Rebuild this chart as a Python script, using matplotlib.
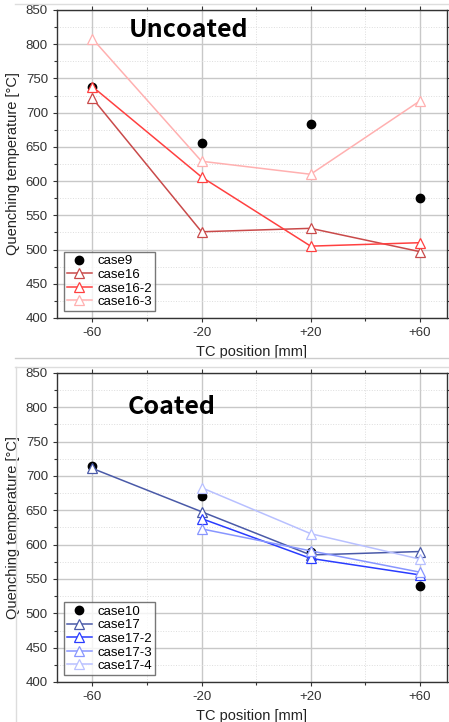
import numpy as np
import matplotlib.pyplot as plt
from matplotlib.ticker import MultipleLocator
from matplotlib.lines import Line2D

plt.rcParams['font.family'] = ['Liberation Sans', 'DejaVu Sans']

pos = [-60, -20, 20, 60]
pos_labels = ["-60", "-20", "+20", "+60"]

# uncoated
case9 = [738, 656, 683, 575]
case16 = [721, 526, 531, 497]
case16_2 = [738, 606, 505, 510]
case16_3 = [808, 629, 610, 717]

# coated
case10 = [714, 671, 590, 540]
case17 = [711, 648, 585, 590]
case17_2 = [np.nan, 638, 580, 556]
case17_3 = [np.nan, 623, 591, 560]
case17_4 = [np.nan, 683, 616, 579]

W, H = 449, 722
fig = plt.figure(figsize=(W/100, H/100), dpi=100)


def make_ax(top, bottom):
    ax = fig.add_axes([57/W, 1 - bottom/H, (447-57)/W, (bottom-top)/H])
    ax.set_xlim(-73, 70)
    ax.set_ylim(400, 850)
    ax.set_xticks(pos)
    ax.set_xticklabels(pos_labels)
    ax.xaxis.set_minor_locator(MultipleLocator(40))
    ax.yaxis.set_major_locator(MultipleLocator(50))
    ax.yaxis.set_minor_locator(MultipleLocator(25))
    ax.grid(which='major', color='#c8c8c8', lw=1.0)
    ax.grid(which='minor', color='#dddddd', lw=0.7, ls=':')
    ax.tick_params(which='both', top=True, right=True, labelsize=9.5,
                   colors='#333333', length=3, width=0.8)
    ax.tick_params(which='minor', length=2)
    for s in ax.spines.values():
        s.set_color('#333333')
        s.set_linewidth(1.0)
    ax.set_axisbelow(True)
    ax.set_xlabel("TC position [mm]", fontsize=10.5, color='#222222', labelpad=4)
    ax.set_ylabel("Quenching temperature [°C]", fontsize=10.5, color='#222222', labelpad=4)
    return ax


tri = dict(marker='^', markerfacecolor='white', markersize=7, lw=1.1, markeredgewidth=0.9)
leg = dict(loc='lower left', fontsize=9.5, frameon=True, fancybox=False,
           edgecolor='#555555', borderpad=0.25, labelspacing=0.1,
           handlelength=1.9, handletextpad=0.4, borderaxespad=0.5)

ax1 = make_ax(10, 318)
ax1.plot(pos, case9, 'o', color='black', markersize=6, ls='none', label='case9')
ax1.plot(pos, case16, color='#c94a4a', label='case16', **tri)
ax1.plot(pos, case16_2, color='#ff4040', label='case16-2', **tri)
ax1.plot(pos, case16_3, color='#ffb0b0', label='case16-3', **tri)
ax1.text(0.185, 0.935, "Uncoated", transform=ax1.transAxes, fontsize=18,
         fontweight='bold', family=['Noto Sans CJK KR', 'DejaVu Sans'], va='center')
ax1.legend(**leg)

ax2 = make_ax(373, 682)
ax2.plot(pos, case10, 'o', color='black', markersize=6, ls='none', label='case10')
ax2.plot(pos, case17, color='#4a5aa8', label='case17', **tri)
ax2.plot(pos, case17_2, color='#2a3cff', label='case17-2', **tri)
ax2.plot(pos, case17_3, color='#8896ff', label='case17-3', **tri)
ax2.plot(pos, case17_4, color='#b8c0ff', label='case17-4', **tri)
ax2.text(0.18, 0.89, "Coated", transform=ax2.transAxes, fontsize=18,
         fontweight='bold', family=['Noto Sans CJK KR', 'DejaVu Sans'], va='center')
ax2.legend(**leg)

# screenshot frame lines
fig.add_artist(Line2D([15/W, 1], [1 - 4/H, 1 - 4/H], color='#dddddd', lw=1))
fig.add_artist(Line2D([15/W, 1], [1 - 358/H, 1 - 358/H], color='#cccccc', lw=1))
fig.add_artist(Line2D([15/W, 1], [1 - 367/H, 1 - 367/H], color='#dddddd', lw=1))
fig.add_artist(Line2D([16/W, 16/W], [0, 1 - 367/H], color='#dddddd', lw=1))

fig.savefig('out.png', dpi=100)
